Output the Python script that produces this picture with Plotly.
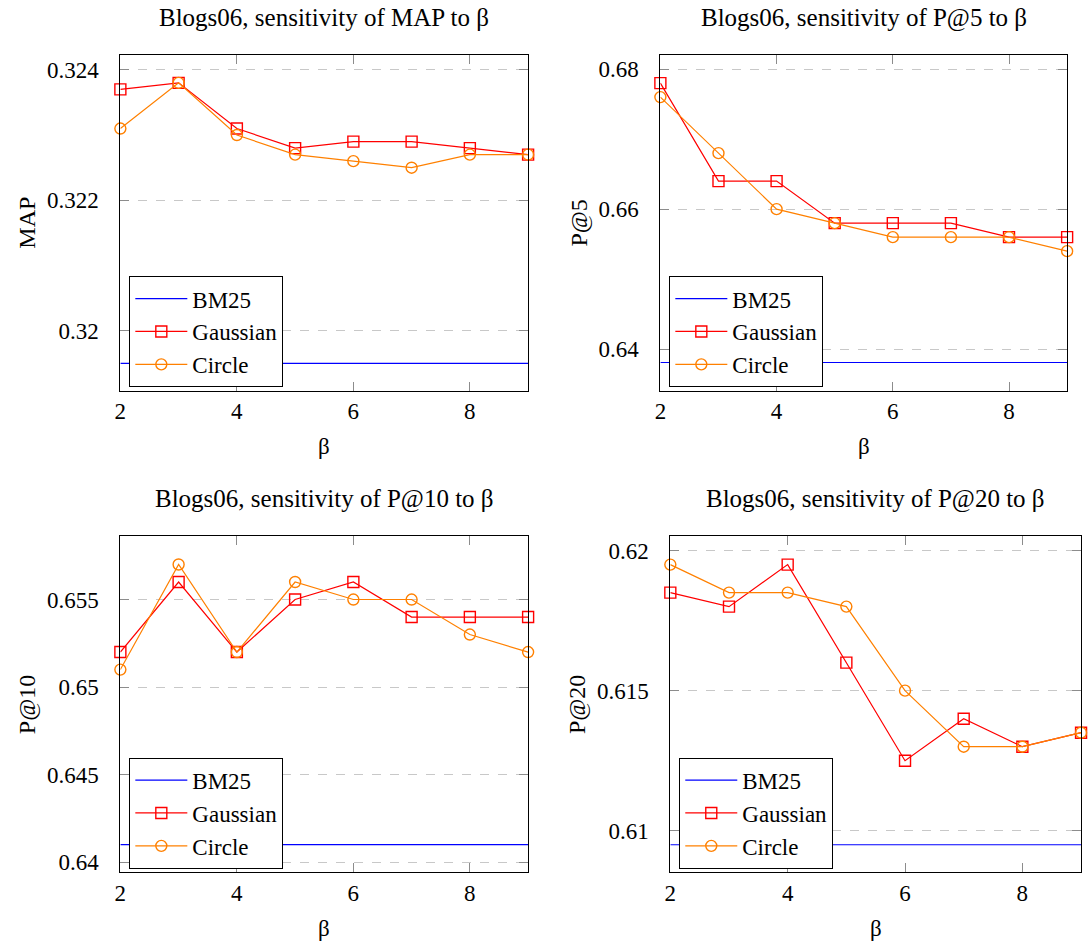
import plotly.graph_objects as go

# beta values on the x axis
beta = [2, 3, 4, 5, 6, 7, 8, 9]

# MAP
map_bm25 = 0.3195
map_gaussian = [0.3237, 0.3238, 0.3231, 0.3228, 0.3229, 0.3229, 0.3228, 0.3227]
map_circle = [0.3231, 0.3238, 0.3230, 0.3227, 0.3226, 0.3225, 0.3227, 0.3227]

# P@5
p5_bm25 = 0.6381
p5_gaussian = [0.678, 0.664, 0.664, 0.658, 0.658, 0.658, 0.656, 0.656]
p5_circle = [0.676, 0.668, 0.660, 0.658, 0.656, 0.656, 0.656, 0.654]

# P@10
p10_bm25 = 0.641
p10_gaussian = [0.652, 0.656, 0.652, 0.655, 0.656, 0.654, 0.654, 0.654]
p10_circle = [0.651, 0.657, 0.652, 0.656, 0.655, 0.655, 0.653, 0.652]

# P@20
p20_bm25 = 0.6095
p20_gaussian = [0.6185, 0.618, 0.6195, 0.616, 0.6125, 0.614, 0.613, 0.6135]
p20_circle = [0.6195, 0.6185, 0.6185, 0.618, 0.615, 0.613, 0.613, 0.6135]

# tick labels
x_ticks = [2, 4, 6, 8]
map_ticks = [0.32, 0.322, 0.324]
map_ticktext = ["0.32", "0.322", "0.324"]
p5_ticks = [0.64, 0.66, 0.68]
p5_ticktext = ["0.64", "0.66", "0.68"]
p10_ticks = [0.64, 0.645, 0.65, 0.655]
p10_ticktext = ["0.64", "0.645", "0.65", "0.655"]
p20_ticks = [0.61, 0.615, 0.62]
p20_ticktext = ["0.61", "0.615", "0.62"]

titles = [
    "Blogs06, sensitivity of MAP to β",
    "Blogs06, sensitivity of P@5 to β",
    "Blogs06, sensitivity of P@10 to β",
    "Blogs06, sensitivity of P@20 to β",
]
ylabels = ["MAP", "P@5", "P@10", "P@20"]

W, H = 1090, 946
FONT = "Liberation Serif"
FS = 23

# panel boxes in pixels: (left, right, top, bottom) and y-label x position
boxes = [
    (115, 525, 55, 392),
    (658, 1067, 55, 392),
    (115, 525, 538, 875),
    (668, 1081, 538, 875),
]
ylabel_x = [21, 576, 21, 574]
yranges = [
    [0.31908, 0.32423],
    [0.63406, 0.68204],
    [0.63943, 0.65861],
    [0.60852, 0.62051],
]
panels = [
    (map_bm25, map_gaussian, map_circle, map_ticks, map_ticktext),
    (p5_bm25, p5_gaussian, p5_circle, p5_ticks, p5_ticktext),
    (p10_bm25, p10_gaussian, p10_circle, p10_ticks, p10_ticktext),
    (p20_bm25, p20_gaussian, p20_circle, p20_ticks, p20_ticktext),
]

fig = go.Figure()
layout = dict(
    width=W, height=H,
    margin=dict(l=0, r=0, t=0, b=0),
    paper_bgcolor="white", plot_bgcolor="white",
    font=dict(family=FONT, size=FS, color="black"),
    annotations=[],
)

for i, (bm25, gauss, circ, yt, ytt) in enumerate(panels):
    n = "" if i == 0 else str(i + 1)
    xa, ya = "x" + n, "y" + n
    lg = "legend" + n
    left, right, top, bottom = boxes[i]

    fig.add_trace(go.Scatter(
        x=beta, y=[bm25] * len(beta), name="BM25", mode="lines",
        line=dict(color="#0000ff", width=1.2),
        xaxis=xa, yaxis=ya, legend=lg, cliponaxis=True,
    ))
    fig.add_trace(go.Scatter(
        x=beta, y=gauss, name="Gaussian", mode="lines+markers",
        line=dict(color="#ff0000", width=1.2),
        marker=dict(symbol="square-open", size=11, color="#ff0000",
                    line=dict(width=1.4, color="#ff0000")),
        xaxis=xa, yaxis=ya, legend=lg, cliponaxis=False,
    ))
    fig.add_trace(go.Scatter(
        x=beta, y=circ, name="Circle", mode="lines+markers",
        line=dict(color="#ff8000", width=1.2),
        marker=dict(symbol="circle-open", size=11, color="#ff8000",
                    line=dict(width=1.4, color="#ff8000")),
        xaxis=xa, yaxis=ya, legend=lg, cliponaxis=False,
    ))

    axis_common = dict(
        showline=True, linecolor="black", linewidth=1, mirror="ticks",
        ticks="inside", ticklen=9, tickwidth=1, tickcolor="#8c8c8c",
        tickfont=dict(family=FONT, size=FS, color="black"),
        zeroline=False,
    )
    layout["xaxis" + n] = dict(
        axis_common,
        domain=[left / W, right / W], anchor=ya,
        range=[2, 9], tickvals=x_ticks, showgrid=False,
    )
    layout["yaxis" + n] = dict(
        axis_common,
        domain=[1 - bottom / H, 1 - top / H], anchor=xa,
        range=yranges[i], tickvals=yt, ticktext=ytt,
        ticklabelstandoff=16,
        showgrid=True, gridcolor="#c8c8c8", gridwidth=1, griddash="dash",
    )
    layout[lg] = dict(
        x=(left + 9) / W, y=1 - (top + 222) / H,
        xanchor="left", yanchor="top",
        bgcolor="white", bordercolor="black", borderwidth=1,
        font=dict(family=FONT, size=FS, color="black"),
        itemwidth=52, tracegroupgap=0,
    )

    cx = (left + right) / 2
    layout["annotations"] += [
        dict(text=titles[i], x=cx / W, y=1 - (top - 37) / H,
             xref="paper", yref="paper", xanchor="center", yanchor="middle",
             showarrow=False, font=dict(family=FONT, size=25)),
        dict(text="β", x=cx / W, y=1 - (bottom + 56) / H,
             xref="paper", yref="paper", xanchor="center", yanchor="middle",
             showarrow=False, font=dict(family=FONT, size=FS)),
        dict(text=ylabels[i], x=ylabel_x[i] / W, y=1 - (top + bottom) / 2 / H,
             xref="paper", yref="paper", xanchor="center", yanchor="middle",
             textangle=-90, showarrow=False, font=dict(family=FONT, size=24)),
    ]

fig.update_layout(**layout)
fig.write_html("out.html")
